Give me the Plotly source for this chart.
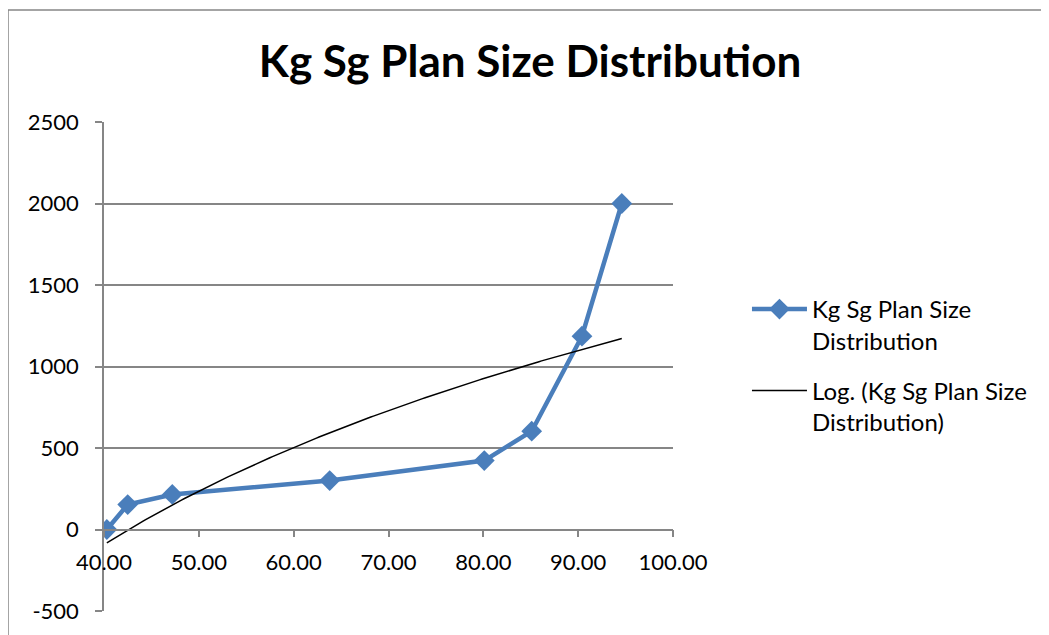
import numpy as np
import plotly.graph_objects as go

# Data
x_values = [40.3, 42.5, 47.2, 63.8, 80.1, 85.1, 90.4, 94.6]
y_values = [0, 153, 215, 300, 423, 603, 1186, 2000]
x_ticks = [40, 50, 60, 70, 80, 90, 100]
x_tick_labels = ["40.00", "50.00", "60.00", "70.00", "80.00", "90.00", "100.00"]
y_ticks = [-500, 0, 500, 1000, 1500, 2000, 2500]
y_tick_labels = ["-500", "0", "500", "1000", "1500", "2000", "2500"]
series_name = "Kg Sg Plan Size Distribution"

# Logarithmic trendline (least squares fit, like Excel's Log. trendline)
a, b = np.polyfit(np.log(x_values), y_values, 1)
trend_x = np.linspace(min(x_values), max(x_values), 200)
trend_y = a * np.log(trend_x) + b

FONT = "Lato"
GRID = "#868686"
BLUE = "#4A7EBB"

# page body has an 8px margin: figure pixel = reference pixel - 8
OFF = 8
L, T, R, B = 104 - OFF, 122 - OFF, 673 - OFF, 611 - OFF
W, H = 1049, 635
PW, PH = R - L, B - T

fig = go.Figure()
fig.add_trace(go.Scatter(
    x=x_values, y=y_values, mode="lines+markers",
    name="Kg Sg Plan Size<br>Distribution",
    line=dict(color=BLUE, width=4.5),
    marker=dict(symbol="diamond", size=16, color=BLUE),
    legendgroup="a",
))
fig.add_trace(go.Scatter(
    x=trend_x, y=trend_y, mode="lines",
    name="Log. (Kg Sg Plan Size<br>Distribution)",
    line=dict(color="black", width=1.5),
    legendgroup="b",
))

fig.update_layout(
    width=W, height=H,
    margin=dict(l=L, r=W - R, t=T, b=H - B),
    paper_bgcolor="white", plot_bgcolor="white",
    font=dict(family=FONT, color="black", size=22),
    title=dict(text="<b>" + series_name + "</b>", x=(530 - OFF) / W, xanchor="center",
               y=1 - (62 - OFF) / H, yanchor="middle",
               font=dict(family=FONT, size=44, color="black")),
    showlegend=True,
    legend=dict(x=1.13, y=(B - (287 - OFF)) / PH, xanchor="left", yanchor="top",
                font=dict(family=FONT, size=24, color="black"),
                itemwidth=55, valign="top",
                tracegroupgap=16, bgcolor="rgba(0,0,0,0)"),
    xaxis=dict(range=[40, 100], tickvals=x_ticks, ticktext=x_tick_labels,
               showgrid=False, zeroline=False,
               showline=True, linecolor=GRID, linewidth=1.5,
               ticks="outside", ticklen=7, tickcolor=GRID, tickwidth=1.5,
               ticklabelstandoff=6,
               anchor="free", position=1 / 6,
               tickfont=dict(family=FONT, size=22, color="black")),
    yaxis=dict(range=[-500, 2500], tickvals=y_ticks, ticktext=y_tick_labels,
               showgrid=True, gridcolor=GRID, gridwidth=1.5, zeroline=False,
               showline=True, linecolor=GRID, linewidth=1.5,
               ticks="outside", ticklen=7, tickcolor=GRID, tickwidth=1.5,
               ticklabelstandoff=12,
               tickfont=dict(family=FONT, size=22, color="black")),
    shapes=[dict(type="rect", xref="paper", yref="paper",
                 x0=(8 - OFF - L) / PW, x1=2.0, y0=-0.3, y1=(B - (10 - OFF)) / PH,
                 line=dict(color=GRID, width=1.5), fillcolor="rgba(0,0,0,0)",
                 layer="below")],
)

fig.write_html("out.html")
